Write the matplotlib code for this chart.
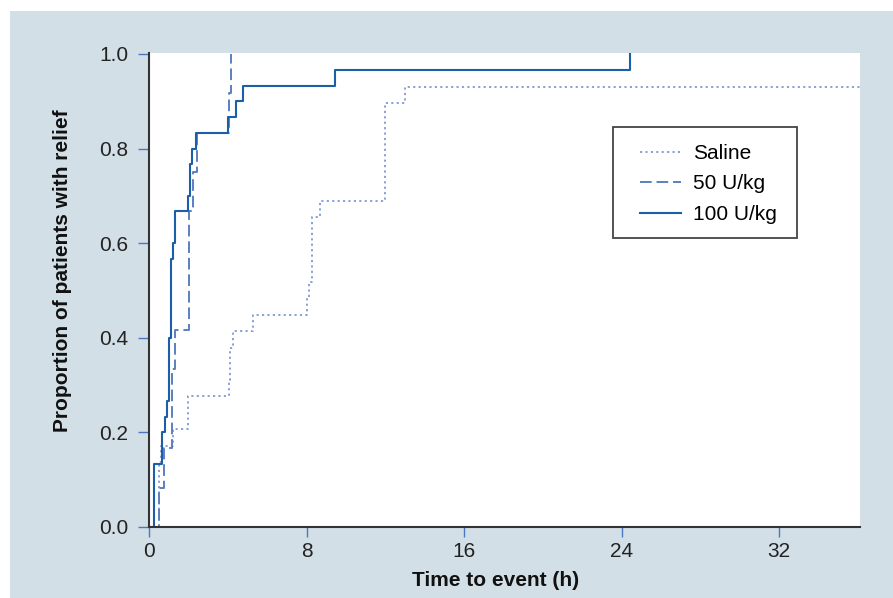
import matplotlib
matplotlib.use("Agg")
import matplotlib.pyplot as plt
from matplotlib.patches import Rectangle

# ---- data ----
t_saline = [0, 0.5, 0.62, 1.2, 1.98, 4.05, 4.1, 4.28, 5.26, 8.0, 8.1, 8.29, 8.68, 12.0, 13.0, 36.1]
p_saline = [0, 0.138, 0.172, 0.207, 0.276, 0.310, 0.379, 0.414, 0.448, 0.483, 0.517, 0.655, 0.690, 0.897, 0.931, 0.931]

t_50 = [0, 0.49, 0.77, 1.18, 1.3, 2.03, 2.23, 2.45, 4.05, 4.15]
p_50 = [0, 0.083, 0.167, 0.333, 0.417, 0.667, 0.75, 0.833, 0.917, 1.0]

t_100 = [0, 0.25, 0.66, 0.79, 0.9, 1.02, 1.13, 1.22, 1.3, 1.98, 2.1, 2.2, 2.37, 4.0, 4.4, 4.79, 9.44, 24.4]
p_100 = [0, 0.133, 0.2, 0.233, 0.267, 0.4, 0.567, 0.6, 0.667, 0.7, 0.767, 0.8, 0.833, 0.867, 0.9, 0.933, 0.967, 1.0]

series_labels = ["Saline", "50 U/kg", "100 U/kg"]
x_ticks = [0, 8, 16, 24, 32]
y_ticks = [0.0, 0.2, 0.4, 0.6, 0.8, 1.0]

plt.rcParams['font.family'] = ['Liberation Sans', 'DejaVu Sans']

W, H = 893, 598
fig = plt.figure(figsize=(W / 100, H / 100), dpi=100)
fig.patch.set_facecolor("white")
bg = Rectangle((10 / W, 0), 1 - 10 / W, 1 - 11 / H, transform=fig.transFigure,
               facecolor="#d3dfe7", edgecolor="none", zorder=-10)
fig.add_artist(bg)

ax = fig.add_axes([149 / W, 1 - 527 / H, (860 - 149) / W, (527 - 53) / H])
ax.set_zorder(5)
ax.set_facecolor("white")

c_sal = "#7f9bd2"
c_50 = "#5b80bf"
c_100 = "#1c5ea8"

ax.step(t_saline, p_saline, where="post", color=c_sal, lw=1.3,
        linestyle=(0, (1.2, 1.8)), label=series_labels[0])
ax.step(t_50, p_50, where="post", color=c_50, lw=1.4,
        linestyle=(0, (6, 2.5)), label=series_labels[1])
ax.step(t_100, p_100, where="post", color=c_100, lw=1.5,
        linestyle="-", label=series_labels[2])

ax.set_xlim(0, 36.1)
ax.set_ylim(0, 1.002)
ax.set_xticks(x_ticks)
ax.set_xticklabels([str(v) for v in x_ticks])
ax.set_yticks(y_ticks)
ax.set_yticklabels([f"{v:.1f}" for v in y_ticks])

for s in ["top", "right"]:
    ax.spines[s].set_visible(False)
for s in ["left", "bottom"]:
    ax.spines[s].set_color("#333333")
    ax.spines[s].set_linewidth(1.5)

ax.tick_params(axis="x", direction="out", length=7, width=1, color="#4a78c0",
               labelsize=15, labelcolor="#222222", pad=4)
ax.tick_params(axis="y", direction="out", length=8, width=1, color="#4a78c0",
               labelsize=15, labelcolor="#222222", pad=7)

ax.set_xlabel("Time to event (h)", fontsize=15, fontweight="bold", color="#111111")
ax.set_ylabel("Proportion of patients with relief", fontsize=15, fontweight="bold",
              color="#111111")
ax.xaxis.set_label_coords(0.488, -0.093)
ax.yaxis.set_label_coords(-0.108, 0.54)

# legend box (frame drawn separately to match padding)
x0 = (613 - 149) / (860 - 149)
x1 = (797 - 149) / (860 - 149)
y0 = (527 - 238) / (527 - 53)
y1 = (527 - 127) / (527 - 53)
box = Rectangle((x0, y0), x1 - x0, y1 - y0, transform=ax.transAxes,
                facecolor="white", edgecolor="#444444", linewidth=1.3, zorder=6)
ax.add_patch(box)

leg = ax.legend(loc="upper left",
                bbox_to_anchor=((640 - 149) / (860 - 149), (527 - 144) / (527 - 53)),
                fontsize=15, frameon=False, borderpad=0, borderaxespad=0,
                labelspacing=0.55, handlelength=1.95, handletextpad=0.6)
leg.set_zorder(7)

fig.savefig("out.png", dpi=100, facecolor=fig.get_facecolor())
